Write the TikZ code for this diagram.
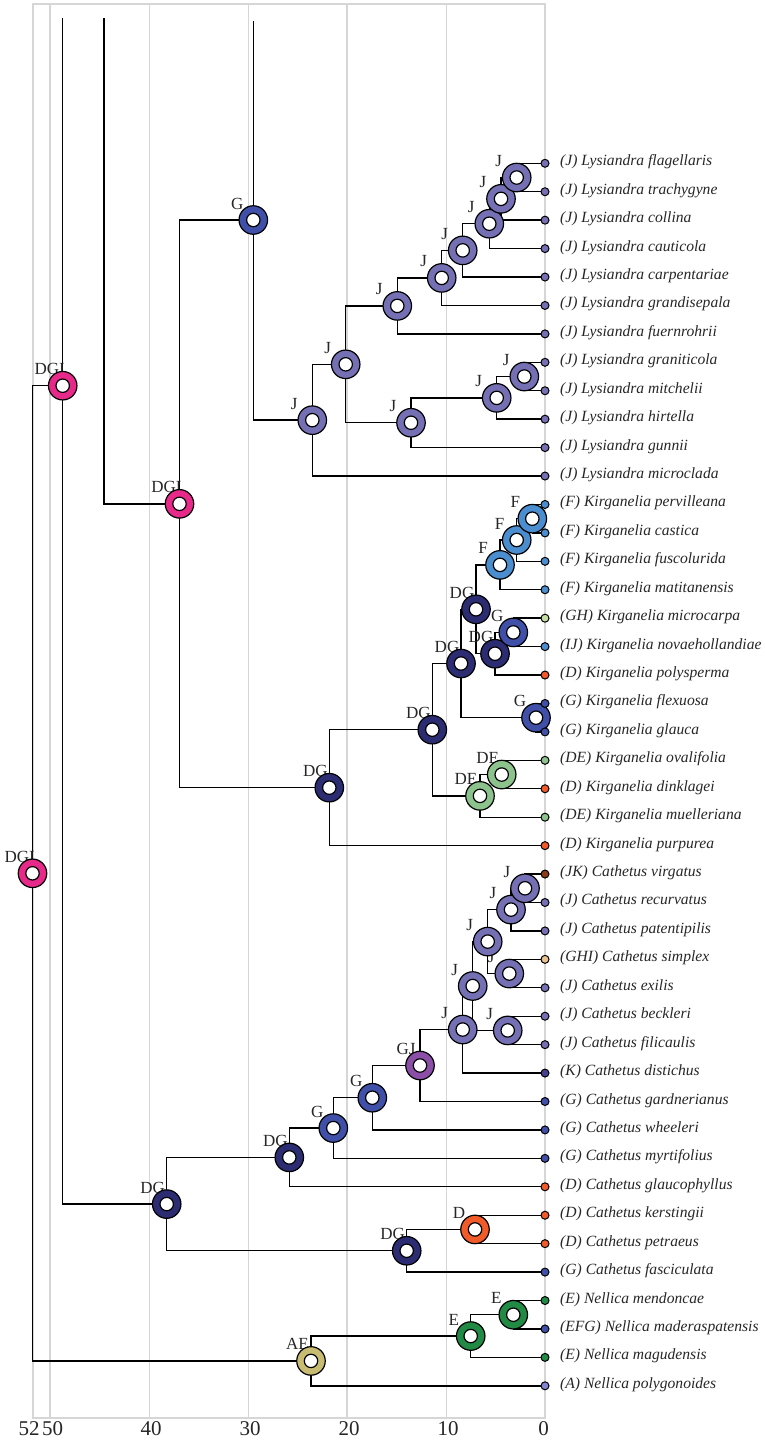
\documentclass[tikz,border=0pt]{standalone}
\usepackage{fontspec}
\setmainfont{Liberation Serif}
\definecolor{gridgray}{HTML}{D6D6D6}
\definecolor{txt}{HTML}{262626}
\definecolor{cJ}{HTML}{7570B3}
\definecolor{cDGI}{HTML}{E7298A}
\definecolor{cG}{HTML}{4050A8}
\definecolor{cDG}{HTML}{2C2C72}
\definecolor{cF}{HTML}{4A8ECF}
\definecolor{cD}{HTML}{F15A29}
\definecolor{cE}{HTML}{218A45}
\definecolor{cDE}{HTML}{8CC38C}
\definecolor{cGJ}{HTML}{8B4FA8}
\definecolor{cAE}{HTML}{C8BC72}
\definecolor{cGH}{HTML}{C5DFA2}
\definecolor{cGHI}{HTML}{EBC38E}
\definecolor{cJK}{HTML}{8B3A1A}
\definecolor{cK}{HTML}{46408F}
\definecolor{cA}{HTML}{8484D0}
\tikzset{
  edge/.style={draw=black, line width=1.4pt},
  gridline/.style={draw=gridgray, line width=1.4pt},
  ring/.style={circle, draw=black, line width=1.2pt, fill=#1, minimum size=28.5pt, inner sep=0pt,
    path picture={\draw[black, fill=white, line width=1.2pt] (path picture bounding box.center) circle (6.7pt);}},
  tipdot/.style={circle, draw=black, line width=1pt, fill=#1, minimum size=8pt, inner sep=0pt},
  tiplab/.style={anchor=base west, font=\fontsize{15.6}{18}\selectfont\itshape, text=txt, inner sep=0pt},
  nodelab/.style={anchor=base, font=\fontsize{17}{19}\selectfont, text=txt, inner sep=0pt},
  axlab/.style={anchor=base, font=\fontsize{21}{23}\selectfont, text=txt, inner sep=0pt},
}
\def\tiplist{%
{(J) Lysiandra flagellaris}/cJ,
{(J) Lysiandra trachygyne}/cJ,
{(J) Lysiandra collina}/cJ,
{(J) Lysiandra cauticola}/cJ,
{(J) Lysiandra carpentariae}/cJ,
{(J) Lysiandra grandisepala}/cJ,
{(J) Lysiandra fuernrohrii}/cJ,
{(J) Lysiandra graniticola}/cJ,
{(J) Lysiandra mitchelii}/cJ,
{(J) Lysiandra hirtella}/cJ,
{(J) Lysiandra gunnii}/cJ,
{(J) Lysiandra microclada}/cJ,
{(F) Kirganelia pervilleana}/cF,
{(F) Kirganelia castica}/cF,
{(F) Kirganelia fuscolurida}/cF,
{(F) Kirganelia matitanensis}/cF,
{(GH) Kirganelia microcarpa}/cGH,
{(IJ) Kirganelia novaehollandiae}/cF,
{(D) Kirganelia polysperma}/cD,
{(G) Kirganelia flexuosa}/cG,
{(G) Kirganelia glauca}/cG,
{(DE) Kirganelia ovalifolia}/cDE,
{(D) Kirganelia dinklagei}/cD,
{(DE) Kirganelia muelleriana}/cDE,
{(D) Kirganelia purpurea}/cD,
{(JK) Cathetus virgatus}/cJK,
{(J) Cathetus recurvatus}/cJ,
{(J) Cathetus patentipilis}/cJ,
{(GHI) Cathetus simplex}/cGHI,
{(J) Cathetus exilis}/cJ,
{(J) Cathetus beckleri}/cJ,
{(J) Cathetus filicaulis}/cJ,
{(K) Cathetus distichus}/cK,
{(G) Cathetus gardnerianus}/cG,
{(G) Cathetus wheeleri}/cG,
{(G) Cathetus myrtifolius}/cG,
{(D) Cathetus glaucophyllus}/cD,
{(D) Cathetus kerstingii}/cD,
{(D) Cathetus petraeus}/cD,
{(G) Cathetus fasciculata}/cG,
{(E) Nellica mendoncae}/cE,
{(EFG) Nellica maderaspatensis}/cG,
{(E) Nellica magudensis}/cE,
{(A) Nellica polygonoides}/cA}
% name/x/y/colour/label/label-offset (preorder)
\def\nodelist{%
Root/32.5/873.3/cDGI/DGI/-12.7,
DGItop/62.7/385.7/cDGI/DGI/-13,
DGImid/179.5/503.83/cDGI/DGI/-13,
GL/253.3/220/cG/G/-16,
J11/312.3/420.17/cJ/J/-18,
J10/345.7/364.31/cJ/J/-18,
J6/397.3/305.9/cJ/J/-18,
J5/441.7/277.91/cJ/J/-18,
J4/462.7/250.37/cJ/J/-18,
J3/489.3/223.72/cJ/J/-18,
J2/501/198.84/cJ/J/-18,
J1/516.7/177.52/cJ/J/-18,
J9/411/422.73/cJ/J/-18,
J8/496.7/397.85/cJ/J/-18,
J7/524.3/376.53/cJ/J/-18,
DGK/329.3/787.66/cDG/DG/-14,
DGd/432.3/729.69/cDG/DG/-14,
DGc/461/663.5/cDG/DG/-14,
DGb/476/609.3/cDG/DG/-14,
F3/500/564.87/cF/F/-17,
F2/516.7/540/cF/F/-17,
F1/532.3/518.68/cF/F/-17,
DGa/495/653.72/cDG/DG/-14,
Gk/513.3/632.4/cG/G/-16,
Gf/536/717.69/cG/G/-16,
DE2/480/795.87/cDE/DE/-14,
DE1/501.7/774.55/cDE/DE/-14,
DGcv/166.7/1204.08/cDG/DG/-14,
DGciii/289.3/1157.41/cDG/DG/-14,
Gcii/333.3/1128.04/cG/G/-16,
Gci/372.3/1097.72/cG/G/-16,
GJ/420/1065.51/cGJ/GJ/-14,
Jcvii/462.7/1029.53/cJ/J/-18,
Jcvi/472.7/986/cJ/J/-18,
Jciv/487.7/941.58/cJ/J/-18,
Jcii/511/909.59/cJ/J/-18,
Jci/525/888.27/cJ/J/-18,
Jciii/509.3/973.56/cJ/J/-18,
Jcv/507.7/1030.42/cJ/J/-18,
DGciv/406.7/1250.75/cDG/DG/-14,
Dc/475/1229.43/cD/D/-16,
AE/311/1360.92/cAE/AE/-13.5,
E2/470.7/1336.04/cE/E/-17,
E1/513.3/1314.72/cE/E/-17}
\begin{document}
\begin{tikzpicture}[x=1pt,y=-1pt]
\useasboundingbox (0,0) rectangle (764,1441);
% panel grid
\draw[gridline] (33,4) rectangle (545,1418);
\foreach \gx in {50,149.5,248.5,347,446.3}{\draw[gridline] (\gx,4) -- (\gx,1418);}
% axis labels
\node[axlab] (ax52) at (29,1435.5) {52};
\node[axlab] (ax50) at (52.5,1435.5) {50};
\node[axlab] (ax40) at (151,1435.5) {40};
\node[axlab] (ax30) at (250,1435.5) {30};
\node[axlab] (ax20) at (349,1435.5) {20};
\node[axlab] (ax10) at (448,1435.5) {10};
\node[axlab] (ax0) at (543.5,1435.5) {0};
% coordinates
\foreach \lab/\col [count=\i] in \tiplist {\coordinate (t\i) at (545,{163.3+(\i-1)*28.43});}
\foreach \nm/\nx/\ny/\col/\txt/\dx in \nodelist {\coordinate (n\nm) at (\nx,\ny);}
\coordinate (topG) at (253.3,21);
\coordinate (topB) at (104,18);
\coordinate (topD) at (62.7,18);
% branches
\draw[edge]
 (nJ1)|-(t1) (nJ1)|-(t2)
 (nJ2)|-(nJ1) (nJ2)|-(t3)
 (nJ3)|-(nJ2) (nJ3)|-(t4)
 (nJ4)|-(nJ3) (nJ4)|-(t5)
 (nJ5)|-(nJ4) (nJ5)|-(t6)
 (nJ6)|-(nJ5) (nJ6)|-(t7)
 (nJ7)|-(t8) (nJ7)|-(t9)
 (nJ8)|-(nJ7) (nJ8)|-(t10)
 (nJ9)|-(nJ8) (nJ9)|-(t11)
 (nJ10)|-(nJ6) (nJ10)|-(nJ9)
 (nJ11)|-(nJ10) (nJ11)|-(t12)
 (nGL)|-(nJ11) (nGL)|-(topG)
 (nF1)|-(t13) (nF1)|-(t14)
 (nF2)|-(nF1) (nF2)|-(t15)
 (nF3)|-(nF2) (nF3)|-(t16)
 (nGk)|-(t17) (nGk)|-(t18)
 (nDGa)|-(nGk) (nDGa)|-(t19)
 (nDGb)|-(nF3) (nDGb)|-(nDGa)
 (nGf)|-(t20) (nGf)|-(t21)
 (nDGc)|-(nDGb) (nDGc)|-(nGf)
 (nDE1)|-(t22) (nDE1)|-(t23)
 (nDE2)|-(nDE1) (nDE2)|-(t24)
 (nDGd)|-(nDGc) (nDGd)|-(nDE2)
 (nDGK)|-(nDGd) (nDGK)|-(t25)
 (nDGImid)|-(nGL) (nDGImid)|-(nDGK)
 (topB)|-(nDGImid)
 (nJci)|-(t26) (nJci)|-(t27)
 (nJcii)|-(nJci) (nJcii)|-(t28)
 (nJciii)|-(t29) (nJciii)|-(t30)
 (nJciv)|-(nJcii) (nJciv)|-(nJciii)
 (nJcv)|-(t31) (nJcv)|-(t32)
 (nJcvi)|-(nJciv) (nJcvi)|-(nJcv)
 (nJcvii)|-(nJcvi) (nJcvii)|-(t33)
 (nGJ)|-(nJcvii) (nGJ)|-(t34)
 (nGci)|-(nGJ) (nGci)|-(t35)
 (nGcii)|-(nGci) (nGcii)|-(t36)
 (nDGciii)|-(nGcii) (nDGciii)|-(t37)
 (nDc)|-(t38) (nDc)|-(t39)
 (nDGciv)|-(nDc) (nDGciv)|-(t40)
 (nDGcv)|-(nDGciii) (nDGcv)|-(nDGciv)
 (nE1)|-(t41) (nE1)|-(t42)
 (nE2)|-(nE1) (nE2)|-(t43)
 (nAE)|-(nE2) (nAE)|-(t44)
 (nDGItop)|-(topD) (nDGItop)|-(nDGcv)
 (nRoot)|-(nDGItop) (nRoot)|-(nAE);
% node labels (under the rings)
\foreach \nm/\nx/\ny/\col/\txt/\dx in \nodelist {\node[nodelab] (l\nm) at ([xshift=\dx pt,yshift=11pt]n\nm) {\txt};}
% node rings
\foreach \nm/\nx/\ny/\col/\txt/\dx in \nodelist {\node[ring=\col] (r\nm) at (n\nm) {};}
% tip points and labels
\foreach \lab/\col [count=\i] in \tiplist {
  \node[tipdot=\col] (d\i) at (t\i) {};
  \node[tiplab] (tl\i) at ([xshift=15pt,yshift=-2.5pt]t\i) {\lab};
}
\end{tikzpicture}
\end{document}
